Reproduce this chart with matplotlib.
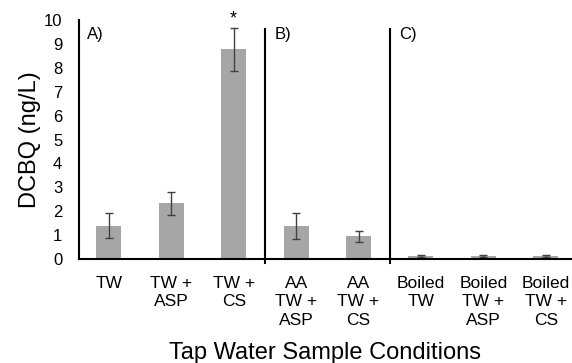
import matplotlib.pyplot as plt

plt.rcParams['font.family'] = ['Liberation Sans', 'DejaVu Sans']

# Data
labels = ["TW", "TW +\nASP", "TW +\nCS", "AA\nTW +\nASP", "AA\nTW +\nCS",
          "Boiled\nTW", "Boiled\nTW +\nASP", "Boiled\nTW +\nCS"]
means = [1.40, 2.33, 8.78, 1.38, 0.95, 0.12, 0.12, 0.12]
errors = [0.51, 0.47, 0.91, 0.53, 0.22, 0.03, 0.03, 0.03]
panel_labels = ["A)", "B)", "C)"]
panel_starts = [0, 3, 5]
dividers = [2.5, 4.5]

fig = plt.figure(figsize=(5.72, 3.63), dpi=100)
ax = fig.add_axes([0.138, 0.2865, 0.862, 0.658])

x = list(range(len(means)))
ax.bar(x, means, width=0.4, color='#a6a6a6',
       yerr=errors, capsize=3,
       error_kw=dict(ecolor='#404040', elinewidth=1, capthick=1))

# panel dividers
for d in dividers:
    ax.plot([d, d], [-0.17, 9.62], color='black', lw=1.5, clip_on=False)

# panel labels
for lab, s in zip(panel_labels, panel_starts):
    ax.text(s - 0.35, 9.38, lab, fontsize=12, ha='left', va='center')

# significance marker
ax.text(2, 9.7, "*", fontsize=13, ha='center', va='bottom')

ax.set_xlim(-0.48, 7.42)
ax.set_ylim(0, 10)
ax.set_yticks(range(0, 11))
ax.tick_params(axis='y', length=0, labelsize=12, pad=12)
ax.tick_params(axis='x', length=0, labelsize=12.5, pad=12)
ax.set_xticks(x)
ax.set_xticklabels(labels, linespacing=1.3, va='top')

for side in ['top', 'right']:
    ax.spines[side].set_visible(False)
ax.spines['left'].set_linewidth(1.5)
ax.spines['bottom'].set_linewidth(1.5)

ax.set_ylabel("DCBQ (ng/L)", fontsize=17, labelpad=2)
ax.set_xlabel("Tap Water Sample Conditions", fontsize=17, labelpad=10)

fig.savefig("out.png", dpi=100)
